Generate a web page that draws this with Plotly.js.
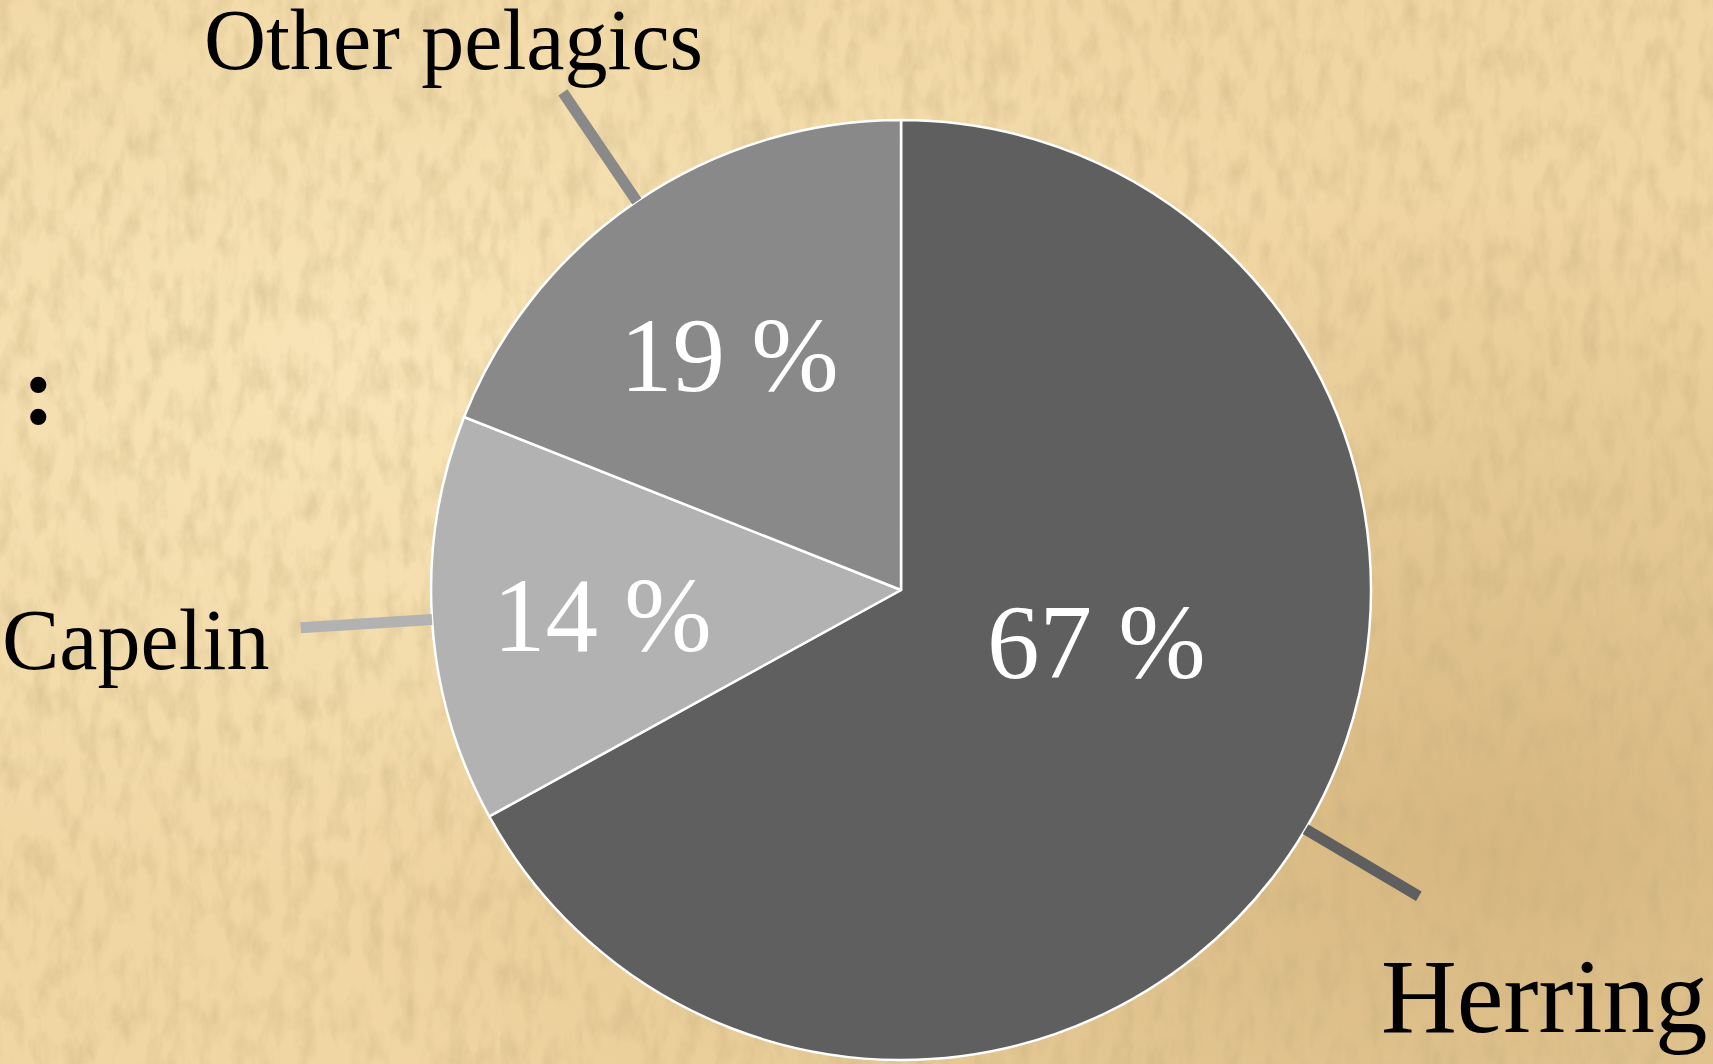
<!DOCTYPE html>
<html>
<head>
<meta charset="utf-8">
<script src="https://cdn.plot.ly/plotly-3.0.1.min.js"></script>
<style>
html,body{margin:0;padding:0;width:1713px;height:1064px;overflow:hidden;}
body{
  background-color:#f0d6a3;
  background-image:
    url("data:image/svg+xml;utf8,<svg xmlns='http://www.w3.org/2000/svg' width='1713' height='1064'><filter id='n'><feTurbulence type='fractalNoise' baseFrequency='0.06 0.025' numOctaves='5' seed='11'/><feColorMatrix values='0 0 0 0 0.55 0 0 0 0 0.42 0 0 0 0 0.20 0.8 0 0 0 -0.33'/></filter><rect width='100%' height='100%' filter='url(%23n)'/></svg>"),
    radial-gradient(ellipse at 88% 80%, rgba(185,145,85,0.45) 0%, rgba(185,145,85,0) 55%),
    radial-gradient(ellipse at 22% 35%, rgba(255,240,200,0.55) 0%, rgba(255,240,200,0) 55%);
}
#chart{width:1713px;height:1064px;}
</style>
</head>
<body>
<div id="chart"></div>
<script>
// ---- data ----
const categories = ["Herring", "Capelin", "Other pelagics"];
const shares = [67, 14, 19];
const sliceColors = ["#5f5f5f", "#b2b2b2", "#898989"];

// ---- layout constants ----
const W = 1713, H = 1064;
const domX = [0.2516, 0.8004];
const domY = [0.0038, 0.8872];
const cx = (domX[0] + domX[1]) / 2 * W;
const cy = (1 - (domY[0] + domY[1]) / 2) * H;
const R = Math.min((domX[1] - domX[0]) * W, (domY[1] - domY[0]) * H) / 2;

// leader lines computed from slice mid-angles
const total = shares.reduce((a, b) => a + b, 0);
let cum = 0;
const shapes = [];
shares.forEach((v, i) => {
  const mid = (cum + v / 2) / total * 2 * Math.PI; // clockwise from 12 o'clock
  cum += v;
  const p = k => [cx + R * k * Math.sin(mid), cy - R * k * Math.cos(mid)];
  const a = p(1.0), b = p(1.28);
  shapes.push({
    type: "line", xref: "paper", yref: "paper",
    x0: a[0] / W, y0: 1 - a[1] / H, x1: b[0] / W, y1: 1 - b[1] / H,
    line: {color: sliceColors[i], width: 11}
  });
});

const serif = "Liberation Serif, Times New Roman, serif";
const mk = (text, px, py, size, color, anchor, extra) => Object.assign({
  text: text, xref: "paper", yref: "paper", x: px / W, y: 1 - py / H,
  xanchor: anchor, yanchor: "middle", showarrow: false,
  font: {family: serif, size: size, color: color}
}, extra || {});

// category labels (outside) and percentage labels (inside slices)
const labelPos = [[1379, 996, 105], [0, 640, 86], [202, 40, 86]];
const pctPos = [[1096, 642], [602, 615], [729, 355]];
const annotations = [];
categories.forEach((c, i) => {
  annotations.push(mk(c, labelPos[i][0], labelPos[i][1], labelPos[i][2], "#000000", "left"));
  annotations.push(mk(shares[i] + " %", pctPos[i][0], pctPos[i][1], 105, "#ffffff", "center"));
});
annotations.push(mk("<b>:</b>", 38, 390, 100, "#000000", "center"));

const trace = {
  type: "pie",
  labels: categories,
  values: shares,
  sort: false,
  direction: "clockwise",
  rotation: 0,
  domain: {x: domX, y: domY},
  marker: {colors: sliceColors, line: {color: "#ffffff", width: 2.5}},
  textinfo: "none",
  hoverinfo: "none",
  showlegend: false
};

const layout = {
  width: W, height: H,
  margin: {l: 0, r: 0, t: 0, b: 0},
  paper_bgcolor: "rgba(0,0,0,0)",
  plot_bgcolor: "rgba(0,0,0,0)",
  showlegend: false,
  shapes: shapes,
  annotations: annotations
};

Plotly.newPlot("chart", [trace], layout, {displayModeBar: false, staticPlot: true});
</script>
</body>
</html>
